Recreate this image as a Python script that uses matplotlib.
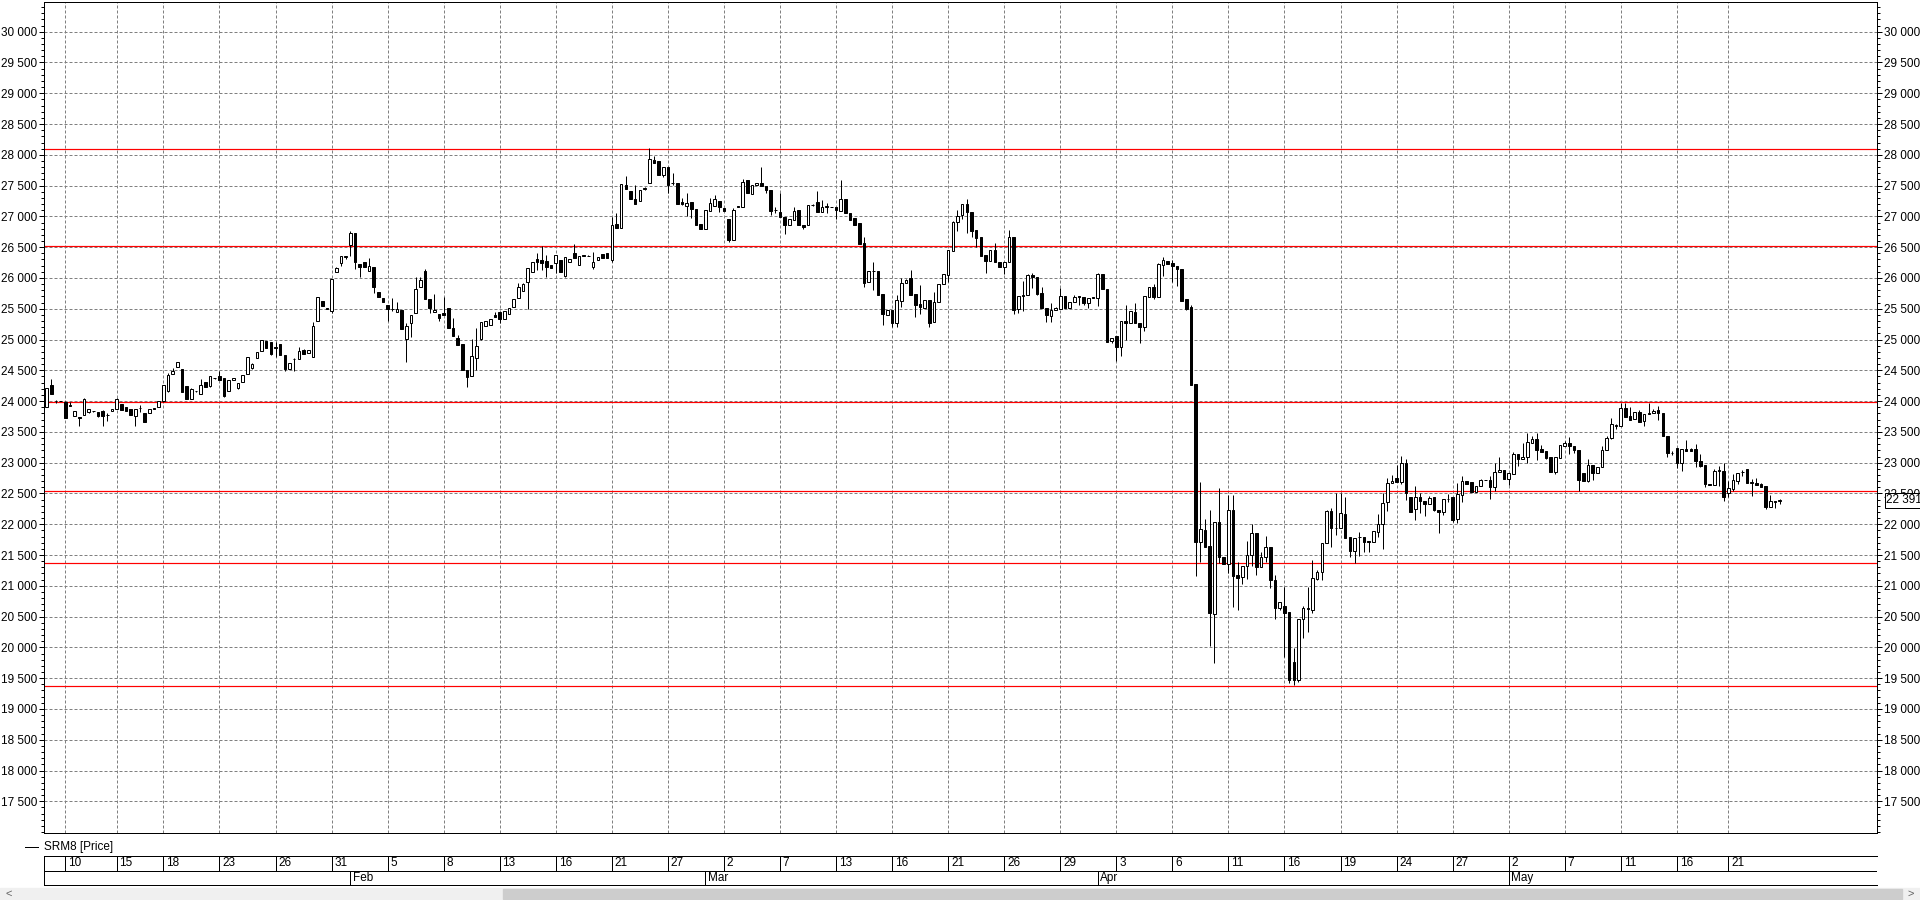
import matplotlib

matplotlib.use("Agg")
import matplotlib.pyplot as plt
import matplotlib.transforms as mtransforms
from matplotlib.lines import Line2D
from matplotlib.patches import Rectangle
from matplotlib.ticker import FixedLocator, MultipleLocator, FuncFormatter
import numpy as np

# SRM8 candles (one bar per slot, 4 per trading day)
opens = [
    23911, 24263, 24008, 23998, 23981, 23943, 23754, 23738, 23770, 23830,
    23840, 23819, 23840, 23775, 23835, 23868, 23949, 23900, 23868, 23754,
    23880, 23803, 23803, 23884, 23900, 23998, 24165, 24436, 24550, 24517,
    24241, 24030, 24160, 24111, 24306, 24252, 24371, 24403, 24371, 24171,
    24339, 24220, 24306, 24436, 24534, 24696, 24810, 24972, 24961, 24885,
    24929, 24750, 24528, 24685, 24690, 24837, 24777, 24712, 25297, 25621,
    25508, 25470, 26092, 26238, 26347, 26542, 26726, 26228, 26260, 26109,
    26174, 25773, 25676, 25562, 25497, 25454, 25486, 25004, 25264, 25427,
    25854, 26114, 25665, 25443, 25410, 25427, 25508, 25189, 25026, 24929,
    24501, 24403, 24696, 25010, 25227, 25232, 25394, 25443, 25340, 25411,
    25535, 25670, 25795, 25930, 26093, 26309, 26288, 26277, 26206, 26239,
    26293, 26039, 26255, 26401, 26217, 26380, 26360, 26185, 26298, 26385,
    26401, 26293, 26878, 26807, 27505, 27413, 27283, 27246, 27451, 27538,
    27911, 27900, 27673, 27803, 27538, 27543, 27229, 27170, 27235, 27121,
    26872, 26802, 27083, 27175, 27256, 27132, 26953, 26612, 27175, 27148,
    27587, 27359, 27505, 27538, 27500, 27435, 27105, 27072, 26997, 26856,
    26943, 27099, 26861, 26856, 27181, 27240, 27078, 27159, 27153, 27148,
    27094, 27278, 27061, 26970, 26888, 26564, 25930, 26109, 26114, 25736,
    25405, 25476, 25264, 25633, 25925, 26000, 25735, 25578, 25519, 25643,
    25280, 25605, 25897, 26055, 26439, 26904, 27018, 27202, 27072, 26780,
    26666, 26374, 26282, 26455, 26260, 26185, 26255, 26666, 25492, 25708,
    25719, 26044, 26011, 25757, 25513, 25389, 25476, 25503, 25703, 25519,
    25605, 25708, 25697, 25589, 25690, 25670, 26065, 25822, 24972, 25058,
    24885, 25302, 25275, 25448, 25275, 25210, 25697, 25854, 25697, 26206,
    26277, 26250, 26195, 26147, 25659, 25535, 24274, 21719, 21908, 21648,
    20539, 22033, 21465, 21356, 22233, 21178, 21140, 21324, 21497, 21854,
    21302, 21470, 21632, 21096, 20636, 20669, 20571, 19760, 19472, 20457,
    20620, 20609, 21107, 21232, 21692, 22217, 21935, 21935, 22163, 21790,
    21573, 21790, 21790, 21719, 21719, 21876, 22000, 22368, 22666, 22747,
    22693, 23002, 22439, 22244, 22439, 22379, 22325, 22450, 22233, 22195,
    22406, 22450, 22082, 22471, 22699, 22682, 22520, 22617, 22720, 22720,
    22612, 22845, 22883, 22736, 22812, 23142, 23056, 23088, 23315, 23386,
    23223, 23191, 23088, 22855, 23083, 23272, 23315, 23272, 23207, 22828,
    22709, 22964, 22828, 22926, 23207, 23407, 23602, 23597, 23884, 23759,
    23705, 23830, 23684, 23797, 23803, 23851, 23803, 23440, 23153, 23234,
    22991, 23223, 23223, 23218, 23034, 22964, 22655, 22639, 22872, 22872,
    22504, 22579, 22709, 22845, 22894, 22677, 22666, 22655, 22623, 22276,
    22368, 22385,
]
highs = [
    24209, 24355, 24019, 24003, 23998, 23981, 23835, 23738, 24052, 23868,
    23845, 23819, 23851, 23803, 23868, 24052, 23949, 23900, 23868, 23868,
    23938, 23803, 23868, 23884, 23998, 24257, 24452, 24534, 24631, 24517,
    24241, 24209, 24165, 24355, 24306, 24403, 24376, 24485, 24371, 24339,
    24371, 24290, 24420, 24712, 24615, 24799, 25000, 24972, 24961, 24956,
    24929, 24750, 24615, 24696, 24874, 24853, 24826, 25286, 25686, 25621,
    25510, 25990, 26184, 26363, 26363, 26758, 26726, 26228, 26260, 26320,
    26174, 25773, 25676, 25562, 25670, 25605, 25486, 25264, 25405, 26011,
    26011, 26147, 25665, 25735, 25410, 25692, 25508, 25346, 25069, 24929,
    24501, 25004, 25189, 25290, 25308, 25335, 25454, 25443, 25465, 25508,
    25654, 25914, 25925, 26158, 26266, 26401, 26520, 26369, 26206, 26369,
    26293, 26347, 26315, 26553, 26363, 26380, 26365, 26428, 26336, 26385,
    26401, 26986, 27051, 27522, 27657, 27413, 27505, 27430, 27484, 28106,
    27976, 27900, 27798, 27803, 27711, 27543, 27294, 27386, 27235, 27121,
    26872, 27099, 27294, 27343, 27256, 27132, 26953, 27132, 27175, 27608,
    27587, 27511, 27543, 27798, 27500, 27435, 27159, 27376, 26997, 26959,
    27148, 27099, 26861, 27191, 27208, 27408, 27267, 27224, 27158, 27148,
    27592, 27278, 27061, 26970, 26888, 26672, 26114, 26255, 26114, 25736,
    25481, 25476, 25725, 25995, 25990, 26130, 25735, 25881, 25638, 25643,
    25768, 25897, 26060, 26450, 26931, 27105, 27197, 27283, 27072, 26780,
    26666, 26374, 26455, 26563, 26260, 26260, 26780, 26666, 25708, 25951,
    26065, 26087, 26011, 25849, 25513, 25600, 25535, 25838, 25703, 25605,
    25719, 25708, 25697, 25676, 25690, 26076, 26065, 25822, 25020, 25058,
    25302, 25562, 25459, 25589, 25275, 25708, 25854, 25897, 26238, 26347,
    26277, 26293, 26195, 26147, 25659, 25562, 24274, 22693, 22092, 22233,
    22033, 22585, 21465, 22477, 22477, 21394, 21324, 21730, 22000, 21854,
    21541, 21811, 21632, 21178, 20734, 20988, 20571, 19987, 20457, 20674,
    20977, 21421, 21264, 21692, 22233, 22260, 22504, 22504, 22450, 21790,
    21773, 21881, 21790, 21730, 21898, 22168, 22504, 22747, 22801, 22964,
    23110, 23056, 22439, 22628, 22504, 22379, 22461, 22450, 22233, 22406,
    22488, 22450, 22677, 22791, 22699, 22682, 22623, 22731, 22725, 22785,
    22991, 23088, 22883, 22828, 23180, 23142, 23326, 23489, 23440, 23489,
    23288, 23191, 23088, 23088, 23283, 23353, 23424, 23272, 23207, 22828,
    23061, 22964, 22926, 23272, 23440, 23722, 23624, 23976, 23976, 23900,
    23819, 23857, 23792, 23976, 23873, 23922, 23803, 23440, 23191, 23234,
    23223, 23370, 23245, 23299, 23137, 22964, 22655, 22894, 22953, 23002,
    22709, 22812, 22828, 22883, 22894, 22736, 22747, 22677, 22623, 22477,
    22372, 22412,
]
lows = [
    23911, 24111, 23965, 23995, 23732, 23916, 23754, 23602, 23770, 23803,
    23830, 23749, 23602, 23678, 23835, 23868, 23862, 23835, 23770, 23602,
    23819, 23657, 23803, 23868, 23900, 23981, 24155, 24436, 24550, 24155,
    24041, 24030, 24155, 24111, 24225, 24236, 24365, 24349, 24074, 24171,
    24339, 24203, 24306, 24436, 24517, 24696, 24810, 24869, 24750, 24712,
    24745, 24485, 24528, 24496, 24690, 24772, 24777, 24712, 25297, 25551,
    25498, 25437, 26092, 26201, 26309, 26363, 26152, 26022, 26184, 26109,
    25762, 25697, 25616, 25307, 25465, 25454, 25167, 24636, 25048, 25427,
    25854, 25654, 25437, 25443, 25307, 25400, 25183, 25053, 24907, 24501,
    24236, 24403, 24501, 25000, 25227, 25232, 25373, 25264, 25340, 25411,
    25535, 25670, 25795, 25492, 26093, 26131, 26131, 26017, 26168, 26087,
    26103, 26017, 26255, 26331, 26217, 26353, 26350, 26152, 26298, 26331,
    26320, 26255, 26818, 26807, 27451, 27289, 27202, 27246, 27430, 27538,
    27874, 27679, 27646, 27376, 27511, 27208, 27186, 27007, 26975, 26861,
    26802, 26791, 27083, 27175, 27078, 27094, 26585, 26612, 27148, 27148,
    27376, 27359, 27505, 27495, 27376, 27018, 27051, 26986, 26720, 26856,
    26943, 26856, 26796, 26856, 27176, 27078, 27078, 27051, 27148, 26953,
    27094, 27051, 26943, 26867, 26547, 25860, 25930, 25806, 25719, 25237,
    25405, 25210, 25210, 25535, 25925, 25730, 25372, 25416, 25519, 25210,
    25280, 25605, 25897, 25940, 26439, 26769, 26964, 26726, 26672, 26498,
    26358, 26076, 26282, 26266, 26174, 26065, 26255, 25416, 25438, 25459,
    25719, 25843, 25724, 25508, 25292, 25292, 25476, 25503, 25519, 25519,
    25605, 25567, 25562, 25519, 25681, 25546, 25816, 24966, 24939, 24658,
    24734, 24993, 25275, 25264, 24950, 25145, 25697, 25654, 25697, 26038,
    26228, 25941, 25870, 25632, 25481, 24263, 21167, 21394, 21638, 20030,
    19747, 21367, 21356, 21205, 20663, 20609, 21031, 21107, 21324, 21178,
    21302, 21394, 20961, 20457, 20609, 19840, 19418, 19391, 19445, 20160,
    20257, 20566, 21096, 21096, 21692, 21638, 21827, 21935, 21773, 21475,
    21378, 21486, 21557, 21557, 21719, 21800, 21595, 22222, 22666, 22693,
    22655, 22396, 22206, 22071, 22190, 22136, 22325, 22222, 21854, 22152,
    22368, 22044, 22027, 22368, 22655, 22520, 22520, 22617, 22715, 22406,
    22547, 22845, 22731, 22639, 22812, 22953, 23056, 23002, 23315, 23045,
    23180, 23061, 22855, 22812, 23083, 23272, 23137, 23153, 22547, 22709,
    22682, 22720, 22828, 22926, 23207, 23386, 23548, 23597, 23738, 23695,
    23705, 23657, 23603, 23792, 23803, 23694, 23440, 23088, 23126, 22920,
    22872, 23186, 23186, 22937, 22926, 22601, 22633, 22639, 22623, 22385,
    22450, 22547, 22650, 22785, 22677, 22466, 22633, 22601, 22244, 22276,
    22260, 22331,
]
closes = [
    24209, 24111, 24003, 23998, 23732, 23916, 23835, 23725, 24041, 23868,
    23835, 23759, 23754, 23780, 23868, 24041, 23862, 23835, 23770, 23868,
    23884, 23657, 23868, 23868, 23998, 24257, 24425, 24485, 24631, 24155,
    24041, 24192, 24160, 24263, 24225, 24403, 24371, 24349, 24090, 24339,
    24371, 24290, 24420, 24712, 24598, 24799, 25000, 24869, 24766, 24858,
    24745, 24523, 24615, 24690, 24810, 24772, 24826, 25221, 25686, 25551,
    25503, 25990, 26163, 26363, 26347, 26726, 26255, 26184, 26184, 26195,
    25860, 25697, 25616, 25503, 25492, 25497, 25167, 25226, 25405, 25822,
    25962, 25654, 25519, 25481, 25356, 25400, 25183, 25053, 24907, 24501,
    24398, 24734, 24896, 25280, 25308, 25335, 25373, 25340, 25465, 25508,
    25654, 25849, 25903, 26158, 26266, 26255, 26239, 26185, 26168, 26369,
    26103, 26336, 26315, 26331, 26363, 26353, 26358, 26255, 26336, 26331,
    26320, 26856, 26818, 27522, 27451, 27289, 27202, 27430, 27456, 27928,
    27874, 27679, 27798, 27511, 27538, 27208, 27202, 27224, 27127, 26861,
    26802, 27099, 27224, 27283, 27159, 27094, 26612, 27099, 27148, 27554,
    27376, 27511, 27543, 27495, 27430, 27083, 27100, 26986, 26861, 26959,
    27094, 26856, 26834, 27181, 27181, 27078, 27159, 27159, 27153, 27105,
    27278, 27051, 26943, 26867, 26547, 25914, 26114, 26109, 25719, 25411,
    25481, 25264, 25643, 25914, 25963, 25730, 25562, 25535, 25638, 25275,
    25605, 25897, 26060, 26450, 26904, 27002, 27197, 27072, 26769, 26655,
    26358, 26282, 26455, 26266, 26174, 26260, 26666, 25481, 25708, 25719,
    26044, 26011, 25740, 25508, 25405, 25476, 25519, 25708, 25519, 25605,
    25692, 25692, 25589, 25676, 25681, 26065, 25816, 24966, 25020, 24885,
    25302, 25275, 25459, 25264, 25210, 25708, 25854, 25697, 26222, 26293,
    26228, 26201, 26141, 25632, 25503, 24263, 21719, 21919, 21638, 20555,
    22033, 21465, 21356, 22233, 21167, 21123, 21324, 21497, 21854, 21302,
    21465, 21632, 21096, 20636, 20734, 20555, 19472, 19472, 20457, 20636,
    20636, 21123, 21226, 21692, 22217, 21935, 21940, 22179, 21773, 21573,
    21773, 21785, 21719, 21715, 21898, 22000, 22352, 22666, 22704, 22693,
    23002, 22504, 22206, 22439, 22385, 22325, 22423, 22233, 22195, 22406,
    22410, 22071, 22493, 22704, 22655, 22520, 22623, 22720, 22720, 22612,
    22845, 22883, 22731, 22828, 23142, 23056, 23088, 23342, 23380, 23207,
    23180, 23083, 22855, 23088, 23283, 23315, 23272, 23207, 22720, 22709,
    22964, 22828, 22926, 23207, 23407, 23629, 23606, 23884, 23738, 23695,
    23819, 23657, 23792, 23801, 23841, 23814, 23440, 23153, 23157, 22991,
    23223, 23186, 23186, 23034, 22953, 22655, 22633, 22872, 22876, 22450,
    22585, 22720, 22828, 22849, 22677, 22681, 22633, 22601, 22276, 22374,
    22365, 22391,
]

# first bar of each labelled day, and of each month
day_labels = ["10", "15", "18", "23", "26", "31", "5", "8", "13", "16", "21",
              "27", "2", "7", "13", "16", "21", "26", "29", "3", "6", "11",
              "16", "19", "24", "27", "2", "7", "11", "16", "21"]
day_bars = [4, 15, 25, 37, 49, 61, 73, 85, 97, 109, 121, 133, 145, 157, 169,
            181, 193, 205, 217, 229, 241, 253, 265, 277, 289, 301, 313, 325,
            337, 349, 360]
month_labels = ["Feb", "Mar", "Apr", "May"]
month_bars = [65, 141, 225, 313]

levels = [28090, 26525, 23982, 22536, 21371, 19370]
last_price = 22391
series_name = "SRM8 [Price]"

W, H = 1920, 900
PX = 72 / 100  # one pixel in points


def fx(px):
    return px / W


def fy(py):
    return 1 - py / H


plt.rcParams["font.family"] = ["Liberation Sans", "DejaVu Sans"]
plt.rcParams["font.size"] = 8.5

fig = plt.figure(figsize=(W / 100, H / 100), dpi=100, facecolor="white")
ax = fig.add_axes([fx(44), fy(833), fx(1877) - fx(44), fy(2) - fy(833)])

o = np.array(opens, float)
h = np.array(highs, float)
l = np.array(lows, float)
c = np.array(closes, float)
h = np.maximum(h, np.maximum(o, c))
l = np.minimum(l, np.minimum(o, c))
x = np.arange(len(o))
up = c >= o

ax.vlines(x, l, h, color="black", lw=PX, zorder=3)
ax.bar(x, np.maximum(np.abs(c - o), 6), bottom=np.minimum(o, c), width=0.56,
       color=np.where(up, "white", "black"), edgecolor="black", lw=PX,
       zorder=4)

for lv in levels:
    ax.axhline(lv, color="#ff0000", lw=1.2 * PX, zorder=2)

ax.set_xlim(-0.56, 391.85)
ax.set_ylim(16985, 30482)

ax.set_xticks(day_bars)
ax.tick_params(axis="x", length=0, labelbottom=False)
ax.yaxis.set_major_locator(FixedLocator(np.arange(17500, 30001, 500)))
ax.yaxis.set_minor_locator(MultipleLocator(100))
ax.yaxis.set_major_formatter(FuncFormatter(lambda v, p: f"{v:,.0f}".replace(",", " ")))
ax.tick_params(axis="y", which="both", direction="out", left=True, right=True,
               labelleft=True, labelright=True, width=PX, pad=1.5,
               labelsize=8.5, colors="black")
ax.tick_params(axis="y", which="major", length=5 * PX)
ax.tick_params(axis="y", which="minor", length=3 * PX)
ax.grid(True, which="major", color="#808080", lw=PX, linestyle=(0, (3, 2)))
ax.set_axisbelow(True)
for s in ax.spines.values():
    s.set_linewidth(PX)
    s.set_color("black")

# current price box on the right scale
blend = mtransforms.blended_transform_factory(fig.transFigure, ax.transData)
fig.text(fx(1886), last_price, f"{last_price:,}".replace(",", " "),
         transform=blend, ha="left", va="center", fontsize=8.5,
         bbox=dict(boxstyle="square,pad=0.12", fc="white", ec="black", lw=PX))

# legend line
fig.add_artist(Line2D([fx(24.5), fx(38)], [fy(846.7)] * 2, color="black", lw=PX))
fig.text(fx(44), fy(846.7), series_name, ha="left", va="center", fontsize=8.5)

# date strip
ax2 = fig.add_axes([fx(44), fy(885.3), fx(1877) - fx(44), fy(855.7) - fy(885.3)])
ax2.set_xlim(ax.get_xlim())
ax2.set_ylim(0, 2)
ax2.set_xticks([])
ax2.set_yticks([])
ax2.spines["right"].set_visible(False)
for s in ("left", "top", "bottom"):
    ax2.spines[s].set_linewidth(PX)
ax2.axhline(1, color="black", lw=PX)
ax2.vlines(day_bars, 1, 2, color="black", lw=PX)
ax2.vlines(month_bars, 0, 1, color="black", lw=PX)
for p, lab in zip(day_bars, day_labels):
    ax2.text(p + 0.6, 1.5, lab, ha="left", va="center", fontsize=8.5)
for p, lab in zip(month_bars, month_labels):
    ax2.text(p + 0.6, 0.5, lab, ha="left", va="center", fontsize=8.5)

# scroll bar
fig.add_artist(Rectangle((0, 0), 1, fy(888), transform=fig.transFigure,
                         color="#f0f0f0", zorder=0))
fig.add_artist(Rectangle((fx(503), fy(899)), fx(1902) - fx(503), fy(889) - fy(899),
                         transform=fig.transFigure, color="#cdcdcd", zorder=1))
fig.text(fx(9), fy(894), "<", ha="center", va="center", fontsize=8, color="#606060")
fig.text(fx(1911), fy(894), ">", ha="center", va="center", fontsize=8, color="#606060")

fig.savefig("out.png", dpi=100)
